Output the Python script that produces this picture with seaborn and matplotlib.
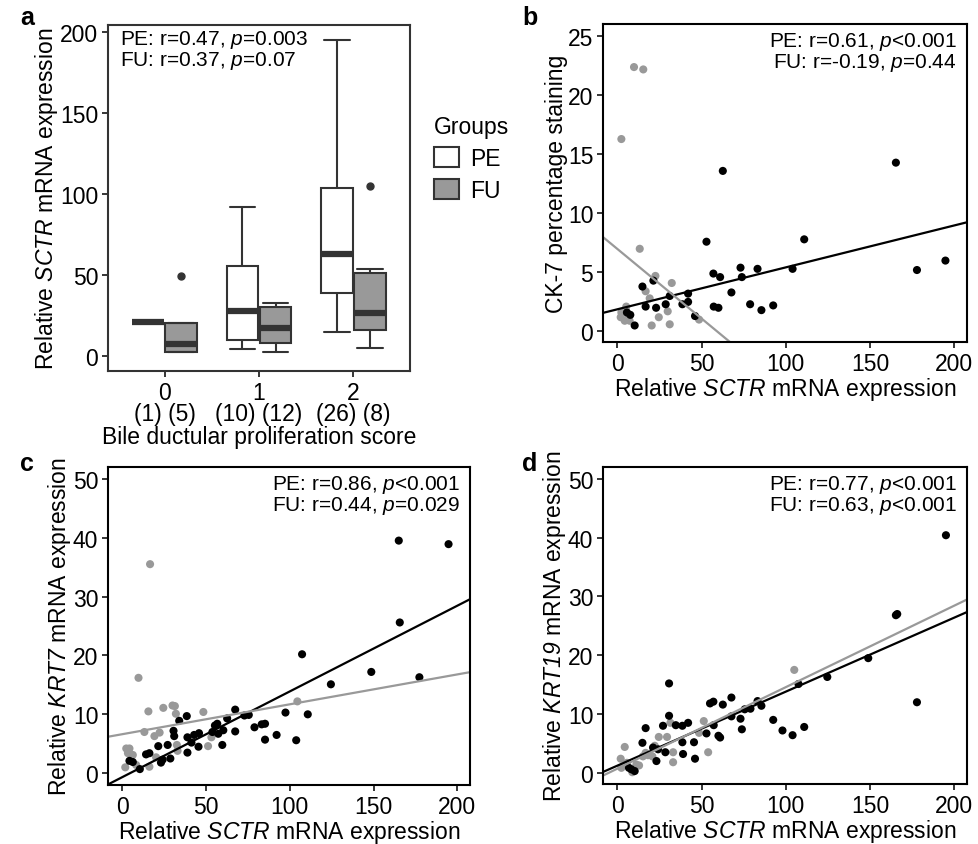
import numpy as np
import pandas as pd
import matplotlib
matplotlib.use("Agg")
import matplotlib.pyplot as plt
import seaborn as sns

# ---------------- data ----------------
# Panel a: SCTR expression by bile ductular proliferation score
scores = ["0", "1", "2"]
score_labels = ["0\n(1) (5)", "1\n(10) (12)", "2\n(26) (8)"]
pe_s0 = [21.0]
fu_s0 = [2.0, 2.5, 7.0, 20.0, 49.0]
pe_s1 = [4.1, 6.0, 9.0, 12.6, 25.0, 29.8, 50.0, 57.1, 70.0, 92.2]
fu_s1 = [2.1, 5.0, 7.0, 8.07, 12.0, 15.0, 18.8, 25.0, 29.5, 31.1, 32.0, 32.8]
pe_s2 = [14.8, 20.0, 25.0, 28.0, 32.0, 35.0, 38.0, 40.4, 45.0, 50.0, 55.0, 60.0, 62.0,
         63.8, 70.0, 75.0, 85.0, 95.0, 102.5, 104.1, 110.0, 125.0, 150.0, 165.0, 178.0, 195.5]
fu_s2 = [4.9, 15.0, 16.47, 24.0, 28.8, 50.0, 53.6, 104.7]

# Panel b: CK-7 staining vs SCTR
b_pe_x = [62.6, 165.3, 52.9, 110.9, 194.7, 177.8, 104.0, 83.2, 73.1, 73.9, 57.0, 61.0, 67.7,
          14.9, 21.4, 16.8, 23.0, 28.7, 31.1, 38.6, 42.0, 42.0, 46.1, 57.2, 60.0, 78.8, 85.5,
          92.5, 10.3, 5.7, 7.7]
b_pe_y = [13.6, 14.3, 7.6, 7.8, 6.0, 5.2, 5.3, 5.3, 5.4, 4.6, 4.9, 4.6, 3.3,
          3.8, 4.3, 2.1, 2.0, 2.3, 3.0, 2.3, 3.2, 2.5, 1.3, 2.1, 2.0, 2.3, 1.8,
          2.2, 0.5, 1.6, 1.4]
b_fu_x = [9.9, 15.4, 2.4, 13.3, 22.6, 16.8, 32.3, 19.2, 29.9, 24.6, 20.4, 31.1, 48.5,
          5.3, 2.4, 2.0, 4.4, 6.3, 7.3]
b_fu_y = [22.4, 22.2, 16.3, 7.0, 4.7, 3.4, 4.1, 2.8, 1.7, 1.2, 0.5, 0.6, 1.0,
          2.1, 1.6, 1.2, 0.9, 1.1, 0.9]

# Panel c: KRT7 vs SCTR
c_pe_x = [165.0, 194.7, 165.6, 107.3, 148.6, 177.3, 124.5, 97.4, 110.7, 103.8, 92.1, 85.2,
          78.9, 83.2, 85.2, 67.4, 67.4, 72.9, 75.5, 62.6, 56.7, 60.3, 57.3, 53.8, 59.7, 55.3,
          45.8, 42.9, 38.9, 41.3, 45.5, 38.9, 38.5, 34.0, 30.6, 31.0, 27.1, 21.5, 28.7, 23.1,
          24.1, 16.2, 14.2, 4.3, 6.3, 10.5]
c_pe_y = [39.5, 38.9, 25.6, 20.2, 17.2, 16.3, 15.1, 10.3, 10.0, 5.6, 6.5, 5.7,
          7.8, 8.3, 8.4, 10.8, 7.1, 9.8, 9.9, 9.3, 8.4, 7.3, 6.7, 7.0, 4.8, 8.1,
          6.8, 6.5, 6.1, 5.2, 4.5, 3.5, 9.7, 8.9, 7.2, 6.3, 4.8, 4.6, 2.5, 1.8,
          2.3, 3.4, 3.2, 2.1, 1.9, 0.7]
c_fu_x = [16.6, 9.7, 15.6, 24.5, 30.0, 31.4, 32.0, 48.4, 13.2, 22.3, 19.2, 104.5, 2.4, 4.3,
          3.4, 6.3, 1.8, 8.3, 16.2, 20.2, 32.6, 33.0, 51.2, 53.2]
c_fu_y = [35.5, 16.2, 10.5, 11.1, 11.5, 11.4, 10.1, 10.4, 7.0, 6.9, 6.3, 12.2, 4.2, 4.2,
          3.4, 3.1, 1.0, 1.4, 1.1, 2.7, 4.8, 3.8, 4.6, 6.1]

# Panel d: KRT19 vs SCTR
d_pe_x = [195.0, 165.3, 166.1, 148.9, 124.6, 107.5, 177.8, 110.9, 104.0, 98.0, 92.5, 85.5,
          83.2, 79.0, 75.6, 73.1, 73.9, 67.7, 67.7, 62.6, 57.0, 55.0, 57.2, 60.0, 61.0, 52.9,
          42.0, 38.6, 34.7, 30.7, 30.7, 27.1, 16.8, 14.9, 38.6, 45.5, 39.0, 46.1, 28.5, 23.2,
          24.2, 21.2, 8.3, 10.3, 6.9]
d_pe_y = [40.4, 26.8, 27.0, 19.5, 16.3, 15.1, 12.0, 7.8, 6.4, 7.2, 9.0, 11.4,
          12.2, 10.9, 10.8, 9.2, 7.4, 12.8, 9.6, 11.6, 12.1, 11.8, 8.1, 6.3, 6.0, 6.7,
          8.5, 8.0, 8.1, 9.7, 15.2, 8.0, 7.6, 5.1, 5.2, 5.2, 3.2, 2.4, 3.5, 2.0,
          4.0, 4.3, 0.6, 0.3, 0.85]
d_fu_x = [105.0, 51.3, 53.9, 33.1, 33.1, 31.5, 29.5, 24.6, 48.5, 4.4, 2.0, 2.4, 5.7, 8.9,
          11.3, 12.9, 15.2, 18.2, 20.8, 16.8, 22.2]
d_fu_y = [17.5, 8.8, 3.5, 1.8, 3.5, 8.5, 6.1, 6.1, 6.8, 4.4, 2.4, 0.85, 1.7, 0.1,
          1.4, 1.25, 2.8, 3.0, 2.8, 3.4, 4.6]

annot_a = "PE: r=0.47, $\\mathbf{p}$=0.003\nFU: r=0.37, $\\mathbf{p}$=0.07"
annot_b = "PE: r=0.61, $\\mathbf{p}$<0.001\nFU: r=-0.19, $\\mathbf{p}$=0.44"
annot_c = "PE: r=0.86, $\\mathbf{p}$<0.001\nFU: r=0.44, $\\mathbf{p}$=0.029"
annot_d = "PE: r=0.77, $\\mathbf{p}$<0.001\nFU: r=0.63, $\\mathbf{p}$<0.001"

# ---------------- style ----------------
sns.set_theme(style="ticks")
plt.rcParams["font.family"] = ["Liberation Sans", "DejaVu Sans"]
plt.rcParams["mathtext.fontset"] = "custom"
plt.rcParams["mathtext.rm"] = "Liberation Sans"
plt.rcParams["mathtext.it"] = "Liberation Sans:italic"
plt.rcParams["mathtext.bf"] = "Liberation Sans:italic"   # used for italic gene names incl. digits
for k in ["text.color", "axes.labelcolor", "xtick.color", "ytick.color", "axes.edgecolor"]:
    plt.rcParams[k] = "black"
plt.rcParams["axes.linewidth"] = 1.5
plt.rcParams["xtick.major.size"] = 4.5
plt.rcParams["ytick.major.size"] = 4.5
plt.rcParams["xtick.major.width"] = 1.1
plt.rcParams["ytick.major.width"] = 1.1
plt.rcParams["xtick.major.pad"] = 2.5
plt.rcParams["ytick.major.pad"] = 2.5

FS = 16.5
ANN = 15
pal = {"PE": "#000000", "FU": "#999999"}

W, H = 979, 845
fig = plt.figure(figsize=(W / 100, H / 100), dpi=100)


def px_axes(l, t, r, b):
    return fig.add_axes([l / W, 1 - b / H, (r - l) / W, (b - t) / H])


# ---------------- panel a ----------------
axa = px_axes(108, 26, 410, 372)
rows = []
for sc, pe, fu in zip(scores, [pe_s0, pe_s1, pe_s2], [fu_s0, fu_s1, fu_s2]):
    rows += [(sc, "PE", v) for v in pe]
    rows += [(sc, "FU", v) for v in fu]
df_a = pd.DataFrame(rows, columns=["score", "Groups", "value"])
sns.boxplot(data=df_a, x="score", y="value", hue="Groups", order=scores,
            hue_order=["PE", "FU"], palette={"PE": "white", "FU": "#999999"},
            saturation=1, width=0.7, gap=0.05, linecolor="#333333", linewidth=1.5,
            medianprops={"linewidth": 4.5, "color": "#333333"},
            flierprops={"marker": "o", "markersize": 5, "markerfacecolor": "#333333",
                        "markeredgecolor": "#333333"},
            capwidths=0.27, ax=axa)
axa.set_xlim(-0.6, 2.6)
axa.set_ylim(-9.5, 204.5)
axa.set_yticks([0, 50, 100, 150, 200])
axa.set_xticks(range(3))
axa.set_xticklabels(score_labels, fontsize=FS, linespacing=0.9)
axa.tick_params(axis="y", labelsize=FS)
axa.set_xlabel("Bile ductular proliferation score", fontsize=FS, labelpad=0)
axa.set_ylabel("Relative $\\mathbf{SCTR}$ mRNA expression", fontsize=FS, labelpad=0)
for s in axa.spines.values():
    s.set_color("#333333")
axa.text(0.04, 0.99, annot_a, transform=axa.transAxes, ha="left", va="top",
         fontsize=ANN, linespacing=0.92)
sns.move_legend(axa, loc="upper left", bbox_to_anchor=(1.01, 0.80), frameon=False,
                title="Groups", fontsize=FS, title_fontsize=FS, handlelength=1.1,
                handleheight=0.95, labelspacing=0.4, handletextpad=0.5, alignment="left")


# ---------------- scatter panels ----------------
def scatter_panel(ax, pe_x, pe_y, fu_x, fu_y, ylim, yticks, ylabel, annot):
    df = pd.DataFrame({
        "x": list(fu_x) + list(pe_x),
        "y": list(fu_y) + list(pe_y),
        "g": ["FU"] * len(fu_x) + ["PE"] * len(pe_x),
    })
    xlim = (-8.5, 207.5)
    ax.set_xlim(*xlim)
    ax.set_ylim(*ylim)
    sns.scatterplot(data=df, x="x", y="y", hue="g", palette=pal, s=34, linewidth=0,
                    legend=False, ax=ax)
    for g in ["PE", "FU"]:
        sub = df[df["g"] == g]
        sns.regplot(data=sub, x="x", y="y", scatter=False, ci=None, truncate=False,
                    color=pal[g], line_kws={"linewidth": 1.6}, ax=ax)
    ax.set_xlim(*xlim)
    ax.set_ylim(*ylim)
    ax.set_xticks([0, 50, 100, 150, 200])
    ax.set_yticks(yticks)
    ax.tick_params(labelsize=FS)
    ax.set_xlabel("Relative $\\mathbf{SCTR}$ mRNA expression", fontsize=FS, labelpad=0)
    ax.set_ylabel(ylabel, fontsize=FS, labelpad=0)
    ax.text(0.972, 0.98, annot, transform=ax.transAxes, ha="right", va="top",
            multialignment="right", fontsize=ANN, linespacing=0.92)


axb = px_axes(603, 25, 967, 343)
scatter_panel(axb, b_pe_x, b_pe_y, b_fu_x, b_fu_y, (-0.9, 26.05), [0, 5, 10, 15, 20, 25],
              "CK-7 percentage staining", annot_b)
axc = px_axes(108, 468, 470, 786)
scatter_panel(axc, c_pe_x, c_pe_y, c_fu_x, c_fu_y, (-2.0, 52.0), [0, 10, 20, 30, 40, 50],
              "Relative $\\mathbf{KRT7}$ mRNA expression", annot_c)
axd = px_axes(603, 468, 967, 785)
scatter_panel(axd, d_pe_x, d_pe_y, d_fu_x, d_fu_y, (-1.9, 52.0), [0, 10, 20, 30, 40, 50],
              "Relative $\\mathbf{KRT19}$ mRNA expression", annot_d)

# panel letters
for lab, x, y in [("a", 20, 18), ("b", 522, 18), ("c", 20, 464), ("d", 522, 464)]:
    fig.text(x / W, 1 - y / H, lab, fontsize=18, fontweight="bold", ha="left", va="center")

fig.savefig("out.png", dpi=100)
